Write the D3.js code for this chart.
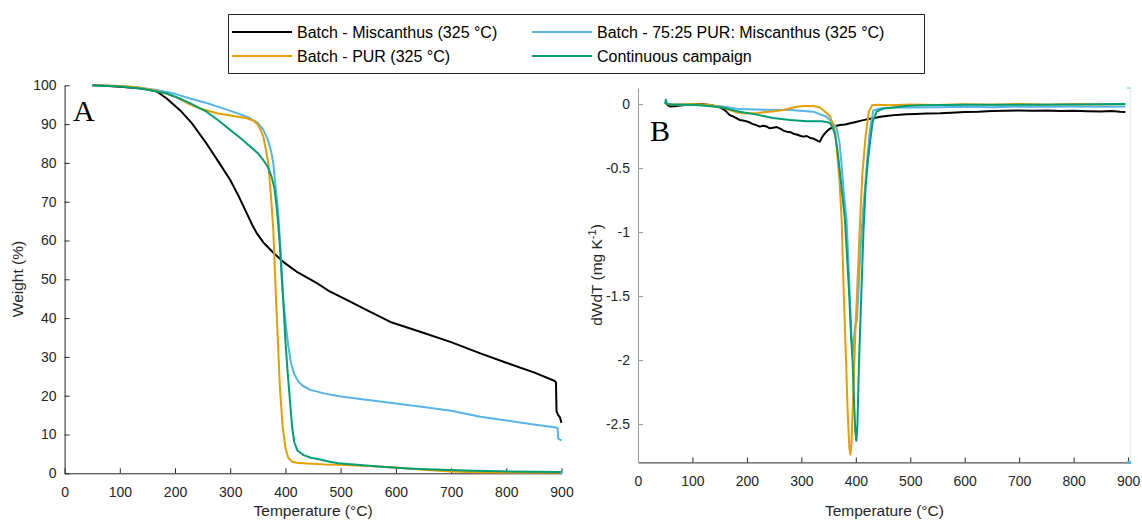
<!DOCTYPE html>
<html>
<head>
<meta charset="utf-8">
<script src="https://cdn.jsdelivr.net/npm/d3@7"></script>
<style>
  html, body { margin: 0; padding: 0; background: #fff; }
  svg { display: block; }
</style>
</head>
<body>
<svg id="chart" width="1142" height="521" font-family="'Liberation Sans', Arial, Helvetica, sans-serif"></svg>
<script>
// ---- Series (temperature in °C, weight in %) : TGA curves ----
const miscanthusTGA = [[50,100],[80,99.8],[100,99.6],[130,99.3],[150,99.0],[167,98.4],[185,96.6],[209,93.6],[230,90.3],[257,85],[280,80],[300,75.6],[315,71.5],[330,67],[340,64],[348,61.9],[360,59.5],[380,56.6],[396,54.5],[420,52],[457,49],[481,46.8],[511,44.7],[541,42.5],[590,39],[644,36.5],[700,33.8],[753,30.9],[800,28.5],[850,26],[888,23.8],[890,23.4],[891,16],[894,15],[897,14.5],[900,13]];
const blendTGA = [[50,100],[100,99.8],[130,99.5],[167,98.8],[200,97.8],[227,96.6],[260,95.3],[288,94],[315,92.7],[336,91.5],[350,90.3],[360,88.5],[368,86],[374,83],[378,79.9],[382,74],[387,67],[391,58],[396,44.7],[401,38],[405,33],[410,28.5],[416,25.5],[424,23.5],[432,22.5],[445,21.5],[470,20.6],[500,19.8],[550,18.9],[600,18],[650,17.1],[700,16.1],[753,14.6],[800,13.6],[850,12.6],[890,11.8],[893,11.6],[894,9],[897,8.7],[900,8.5]];
const purTGA = [[50,100],[100,99.8],[130,99.5],[167,98.6],[185,97.8],[203,96.9],[225,95.2],[245,94],[276,92.8],[300,92.2],[330,91.5],[340,91.0],[348,90.2],[355,88.5],[360,86.8],[365,83],[369,79.9],[374,71],[378,62.7],[381,52],[383,44.7],[386,35],[390,22],[395,12],[400,6.5],[405,4],[412,3.0],[420,2.7],[440,2.5],[470,2.3],[500,2.2],[550,1.9],[600,1.5],[650,0.9],[700,0.45],[750,0.25],[800,0.2],[900,0.2]];
const continuousTGA = [[50,100],[100,99.7],[137,99.2],[160,98.6],[185,97.9],[205,96.8],[227,95.4],[257,93.2],[280,90.8],[300,88.5],[320,86.2],[336,84.2],[350,82.5],[360,80.7],[368,79],[375,76.4],[380,73.5],[384,68.7],[387,64],[390,58.4],[393,51],[396,44.7],[400,34],[404,26],[408,19],[412,12],[416,8],[422,5.8],[433,4.7],[446,4.0],[461,3.6],[480,3.0],[496,2.6],[540,2.1],[580,1.6],[630,1.2],[684,0.9],[740,0.65],[789,0.5],[850,0.4],[900,0.35]];
const blendTGATail = [[898,0],[901,0]];

// ---- Series (temperature in °C, dW/dT in mg K^-1) : DTG curves ----
const miscanthusDTG = [[50,0.01],[55,-0.01],[60,-0.02],[70,-0.015],[85,-0.008],[100,-0.003],[110,0.0],[120,-0.002],[135,-0.01],[150,-0.025],[160,-0.05],[168,-0.085],[178,-0.105],[187,-0.125],[195,-0.13],[203,-0.14],[210,-0.155],[217,-0.165],[224,-0.177],[230,-0.17],[236,-0.175],[242,-0.19],[248,-0.185],[255,-0.18],[262,-0.195],[268,-0.21],[273,-0.216],[280,-0.22],[287,-0.235],[293,-0.24],[299,-0.25],[304,-0.255],[310,-0.25],[316,-0.265],[322,-0.27],[327,-0.28],[331,-0.29],[334,-0.294],[338,-0.26],[343,-0.23],[350,-0.2],[359,-0.177],[365,-0.17],[371,-0.164],[380,-0.16],[390,-0.15],[400,-0.14],[410,-0.13],[420,-0.12],[432,-0.112],[445,-0.1],[460,-0.092],[475,-0.085],[493,-0.08],[510,-0.078],[530,-0.075],[555,-0.073],[575,-0.068],[600,-0.062],[625,-0.06],[650,-0.055],[675,-0.052],[700,-0.05],[725,-0.053],[750,-0.05],[775,-0.055],[800,-0.052],[825,-0.056],[850,-0.058],[870,-0.055],[885,-0.06],[895,-0.062]];
const blendDTG = [[50,0.0],[100,-0.005],[150,-0.015],[187,-0.04],[230,-0.045],[279,-0.047],[322,-0.06],[346,-0.1],[358,-0.15],[365,-0.19],[370,-0.3],[374,-0.48],[378,-0.7],[383,-0.9],[387,-1.3],[390,-1.6],[392,-1.8],[394,-1.96],[396,-1.85],[399,-1.73],[402,-1.69],[405,-1.45],[409,-1.1],[413,-0.85],[417,-0.65],[420,-0.48],[426,-0.2],[432,-0.05],[445,-0.035],[470,-0.03],[500,-0.028],[550,-0.025],[600,-0.022],[650,-0.025],[700,-0.02],[750,-0.022],[800,-0.02],[850,-0.022],[895,-0.02]];
const purDTG = [[50,0.0],[70,-0.005],[100,0],[130,-0.005],[157,-0.03],[170,-0.05],[181,-0.065],[195,-0.072],[206,-0.073],[220,-0.07],[230,-0.065],[250,-0.057],[267,-0.047],[280,-0.033],[291,-0.021],[305,-0.016],[322,-0.016],[333,-0.025],[340,-0.047],[347,-0.075],[353,-0.1],[358,-0.16],[362,-0.22],[366,-0.4],[370,-0.6],[374,-0.9],[378,-1.5],[382,-2.0],[385,-2.4],[388,-2.68],[390,-2.74],[392,-2.65],[395,-2.3],[399,-1.8],[403,-1.4],[408,-0.9],[412,-0.55],[418,-0.25],[424,-0.06],[430,-0.01],[440,-0.005],[460,-0.01],[500,-0.003],[550,-0.008],[600,-0.002],[650,-0.005],[700,0.0],[750,-0.005],[800,0.0],[850,-0.004],[895,0.0]];
const continuousDTG = [[50,0.0],[51,0.035],[53,0.0],[60,-0.003],[100,-0.005],[130,-0.015],[157,-0.03],[187,-0.06],[218,-0.083],[248,-0.11],[279,-0.125],[310,-0.135],[337,-0.135],[346,-0.14],[353,-0.15],[358,-0.19],[362,-0.24],[366,-0.35],[370,-0.5],[375,-0.7],[380,-0.9],[384,-1.2],[388,-1.5],[391,-1.8],[394,-2.0],[397,-2.35],[399,-2.55],[401,-2.63],[403,-2.5],[406,-2.0],[410,-1.5],[414,-1.0],[418,-0.65],[422,-0.45],[426,-0.3],[431,-0.14],[438,-0.06],[450,-0.035],[464,-0.03],[490,-0.015],[520,-0.01],[600,-0.005],[700,-0.005],[800,-0.003],[895,0.0]];
const blendDTGTailTop = [[898,0.125],[905,0.125]];
const blendDTGTailBottom = [[898,-2.8],[905,-2.8]];
const blendDTGTailDrop = [[905,0.125],[905,-2.8]];

// ---- Ticks and labels ----
const tempTicks = [0,100,200,300,400,500,600,700,800,900];
const weightTicks = [0,10,20,30,40,50,60,70,80,90,100];
const dtgTicks = [0,-0.5,-1,-1.5,-2,-2.5];
const seriesNames = ["Batch - Miscanthus (325 °C)", "Batch - 75:25 PUR: Miscanthus (325 °C)", "Batch - PUR (325 °C)", "Continuous campaign"];
const seriesColors = ["#000000", "#56B4E9", "#E69F00", "#009E73"];

const svg = d3.select("#chart");
const axisColor = "#262626";
const sansFont = "'Liberation Sans', Arial, Helvetica, sans-serif";
const serifFont = "'Liberation Serif', 'Times New Roman', Times, serif";

function styleAxis(g, lineColor) {
  g.attr("font-family", sansFont).attr("font-size", 14);
  g.selectAll("path").attr("stroke", lineColor).attr("stroke-width", 1);
  g.selectAll("line").attr("stroke", lineColor).attr("stroke-width", 1);
  g.selectAll("text").attr("fill", axisColor);
}

function drawPanel(cfg) {
  const x = d3.scaleLinear().domain(cfg.xDomain).range([cfg.left, cfg.right]);
  const y = d3.scaleLinear().domain(cfg.yDomain).range([cfg.bottom, cfg.top]);

  const gx = svg.append("g").attr("transform", `translate(0,${cfg.bottom})`)
    .call(d3.axisBottom(x).tickValues(tempTicks).tickFormat(d3.format("d"))
      .tickSizeInner(-5).tickSizeOuter(0).tickPadding(14));
  styleAxis(gx, axisColor);

  const gy = svg.append("g").attr("transform", `translate(${cfg.left},0)`)
    .call(d3.axisLeft(y).tickValues(cfg.yTicks).tickFormat(cfg.yFormat)
      .tickSizeInner(-5).tickSizeOuter(0).tickPadding(8));
  styleAxis(gy, cfg.yAxisColor);

  const line = d3.line().x(d => x(d[0])).y(d => y(d[1]));
  const plot = svg.append("g");
  cfg.series.forEach((s, i) => {
    plot.append("path").datum(s).attr("d", line)
      .attr("fill", "none").attr("stroke", seriesColors[i])
      .attr("stroke-width", 2).attr("stroke-linejoin", "round");
  });
  (cfg.extras || []).forEach(e => {
    plot.append("path").datum(e.data).attr("d", line)
      .attr("fill", "none").attr("stroke", e.color)
      .attr("stroke-width", e.width).attr("stroke-opacity", e.opacity);
  });

  // x axis title
  svg.append("text").attr("x", (cfg.left + cfg.right) / 2).attr("y", 516)
    .attr("text-anchor", "middle").attr("font-size", 15.5).attr("fill", axisColor)
    .text("Temperature (°C)");

  // panel letter
  svg.append("text").attr("x", cfg.letterX).attr("y", cfg.letterY)
    .style("font-family", serifFont)
    .attr("font-size", 30).attr("fill", "#000").text(cfg.letter);
  return { x, y };
}

// Panel A: weight loss
drawPanel({
  left: 64.6, right: 561.5, top: 85.3, bottom: 473.3,
  xDomain: [0, 900], yDomain: [0, 100],
  yTicks: weightTicks, yFormat: d3.format("d"), yAxisColor: axisColor,
  series: [miscanthusTGA, blendTGA, purTGA, continuousTGA],
  extras: [{ data: blendTGATail, color: "#56B4E9", width: 2, opacity: 1 }],
  letter: "A", letterX: 73, letterY: 121
});
svg.append("text").attr("transform", "translate(23,279) rotate(-90)")
  .attr("text-anchor", "middle").attr("font-size", 15.5).attr("fill", axisColor)
  .text("Weight (%)");

// Panel B: derivative weight
drawPanel({
  left: 638, right: 1130.8, top: 88, bottom: 462.4,
  xDomain: [0, 905], yDomain: [-2.8, 0.125],
  yTicks: dtgTicks, yFormat: d => d === 0 ? "0" : d3.format("")(d).replace("−", "-"),
  yAxisColor: "#9a9a9a",
  series: [miscanthusDTG, blendDTG, purDTG, continuousDTG],
  extras: [
    { data: blendDTGTailDrop, color: "#dfe6ea", width: 1, opacity: 1 },
    { data: blendDTGTailTop, color: "#8fd4e6", width: 1.5, opacity: 1 },
    { data: blendDTGTailBottom, color: "#56B4E9", width: 3, opacity: 1 }
  ],
  letter: "B", letterX: 650, letterY: 141
});
const yLab = svg.append("text").attr("transform", "translate(602,275) rotate(-90)")
  .attr("text-anchor", "middle").attr("font-size", 15.5).attr("fill", axisColor);
yLab.append("tspan").text("dWdT (mg K");
yLab.append("tspan").attr("dy", -6).attr("font-size", 11).text("-1");
yLab.append("tspan").attr("dy", 6).text(")");

// Legend (two columns, row-wise order)
const legend = svg.append("g");
legend.append("rect").attr("x", 228.5).attr("y", 14.5).attr("width", 696).attr("height", 59)
  .attr("fill", "#fff").attr("stroke", "#262626").attr("stroke-width", 1);
const colX = [232, 532];
const rowY = [32, 56];
seriesNames.forEach((name, i) => {
  const cx = colX[i % 2], cy = rowY[Math.floor(i / 2)];
  legend.append("line").attr("x1", cx).attr("x2", cx + 60).attr("y1", cy).attr("y2", cy)
    .attr("stroke", seriesColors[i]).attr("stroke-width", 2);
  legend.append("text").attr("x", cx + 65).attr("y", cy).attr("dy", "0.35em")
    .attr("font-size", 16).attr("fill", "#000").text(name);
});
</script>
</body>
</html>
